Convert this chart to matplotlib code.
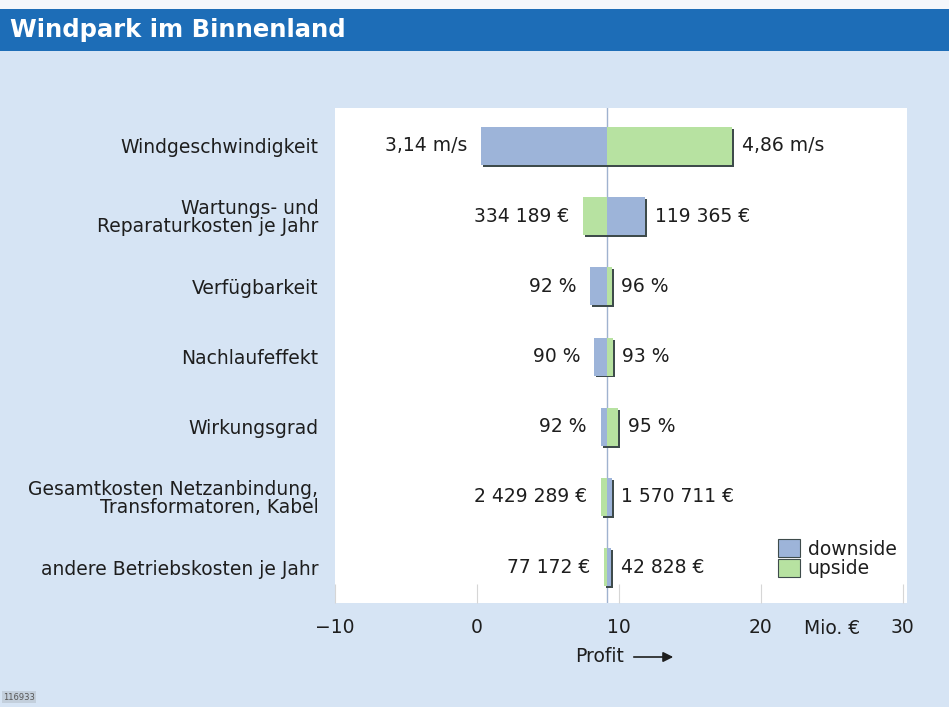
import matplotlib
matplotlib.use("Agg")
import matplotlib.pyplot as plt
from matplotlib.transforms import ScaledTranslation
from matplotlib.patches import Rectangle, Patch

categories = [
    "Windgeschwindigkeit",
    "Wartungs- und\nReparaturkosten je Jahr",
    "Verfügbarkeit",
    "Nachlaufeffekt",
    "Wirkungsgrad",
    "Gesamtkosten Netzanbindung,\nTransformatoren, Kabel",
    "andere Betriebskosten je Jahr",
]
baseline = 9.15
downside_end = [0.28, 11.83, 7.96, 8.24, 8.73, 9.50, 9.44]
upside_end = [17.96, 7.46, 9.49, 9.56, 9.93, 8.71, 8.94]
left_labels = ["3,14 m/s", "334 189 €", "92 %", "90 %", "92 %", "2 429 289 €", "77 172 €"]
right_labels = ["4,86 m/s", "119 365 €", "96 %", "93 %", "95 %", "1 570 711 €", "42 828 €"]
xticks = [-10, 0, 10, 20, 30]
xtick_labels = ["\u221210", "0", "10", "20", "30"]

BLUE = "#9db4d9"
GREEN = "#b7e2a1"
SHADOW = "#3e4b4b"
BG = "#d6e4f4"
BAND = "#1d6db7"
TXT = "#1e1e1e"

plt.rcParams["font.family"] = ["DejaVu Sans"]

fig = plt.figure(figsize=(9.49, 7.07), dpi=100)
fig.patch.set_facecolor(BG)
# title band
fig.patches.append(Rectangle((0, 1 - 51 / 707), 1, 42 / 707, transform=fig.transFigure,
                             facecolor=BAND, edgecolor="none", zorder=0))
fig.patches.append(Rectangle((0, 1 - 9 / 707), 1, 9 / 707, transform=fig.transFigure,
                             facecolor="#f4f7fb", edgecolor="none", zorder=0))
fig.text(10 / 949, 1 - 30 / 707, "Windpark im Binnenland", color="white",
         fontsize=17.5, fontweight="bold", va="center", ha="left")

ax = fig.add_axes([335 / 949, 1 - 603 / 707, 572 / 949, 495 / 707])
ax.set_facecolor("white")
for s in ax.spines.values():
    s.set_visible(False)

y = list(range(len(categories)))
h = 0.54
down_w = [d - baseline for d in downside_end]
up_w = [u - baseline for u in upside_end]

shadow_off = ScaledTranslation(1.4 / 72, -1.4 / 72, fig.dpi_scale_trans)
for widths in (down_w, up_w):
    sb = ax.barh(y, widths, left=baseline, height=h, color=SHADOW, zorder=2)
    for p in sb:
        p.set_transform(ax.transData + shadow_off)
ax.barh(y, down_w, left=baseline, height=h, color=BLUE, zorder=3)
ax.barh(y, up_w, left=baseline, height=h, color=GREEN, zorder=3)

ax.axvline(baseline, color="#9fb2cf", lw=1, zorder=1)

for i in y:
    lo = min(downside_end[i], upside_end[i])
    hi = max(downside_end[i], upside_end[i])
    ax.annotate(left_labels[i], (lo, i), xytext=(-10, 0), textcoords="offset points",
                ha="right", va="center", fontsize=13.5, color=TXT)
    ax.annotate(right_labels[i], (hi, i), xytext=(7, 0), textcoords="offset points",
                ha="left", va="center", fontsize=13.5, color=TXT)

ax.set_xlim(-10, 30.3)
ax.set_ylim(len(categories) - 0.49, -0.54)
ax.set_yticks(y)
ax.set_yticklabels(categories, fontsize=13.5, color=TXT, linespacing=0.95)
ax.tick_params(axis="y", length=0, pad=12)
ax.set_xticks(xticks)
ax.set_xticklabels(xtick_labels, fontsize=13.5, color=TXT)
ax.tick_params(axis="x", direction="in", length=14, color="#d6d6d6", pad=11)

ax.annotate("Mio. €", (25, 0), xycoords=("data", "axes fraction"), xytext=(0, -18.5),
            textcoords="offset points", ha="center", va="center", fontsize=13.5, color=TXT)
fig.text(600 / 949, 1 - 656 / 707, "Profit", fontsize=13.5, ha="center", va="center", color=TXT)
ax.annotate("", xy=(676 / 949, 1 - 657 / 707), xytext=(631 / 949, 1 - 657 / 707),
            xycoords="figure fraction", textcoords="figure fraction",
            arrowprops=dict(arrowstyle="-|>", color=TXT, lw=1.2, mutation_scale=15))

leg = ax.legend(handles=[Patch(facecolor=BLUE, edgecolor=SHADOW, lw=0.8, label="downside"),
                         Patch(facecolor=GREEN, edgecolor=SHADOW, lw=0.8, label="upside")],
                loc="lower right", bbox_to_anchor=(0.995, 0.035), frameon=False, fontsize=13.5,
                handlelength=1.2, handleheight=1.15, handletextpad=0.4, labelspacing=0.0,
                borderaxespad=0)
for t in leg.get_texts():
    t.set_color(TXT)

fig.text(3 / 949, 1 - 697 / 707, "116933", fontsize=6, color="#555555", ha="left", va="center",
         bbox=dict(facecolor="#c3cfdc", edgecolor="none", pad=1))

fig.savefig("out.png", dpi=100, facecolor=fig.get_facecolor())
